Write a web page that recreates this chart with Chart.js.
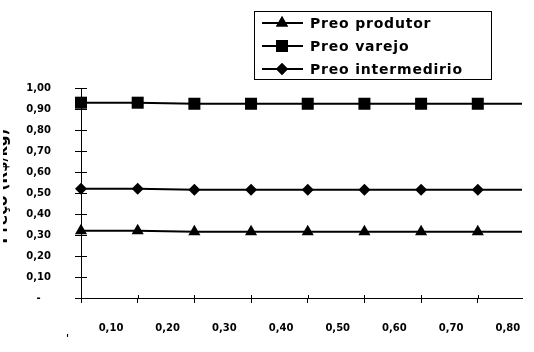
<!DOCTYPE html>
<html>
<head>
<meta charset="utf-8">
<script src="https://cdn.jsdelivr.net/npm/chart.js@4.4.1/dist/chart.umd.min.js"></script>
<style>
  body { margin: 0; background: #fff; }
  #wrap { width: 534px; height: 352px; position: relative; }
</style>
</head>
<body>
<div id="wrap"><canvas id="chart"></canvas></div>
<script>
// data
const categories = ["0,10", "0,20", "0,30", "0,40", "0,50", "0,60", "0,70", "0,80"];
const produtor = [0.32, 0.32, 0.315, 0.315, 0.315, 0.315, 0.315, 0.315];
const varejo = [0.93, 0.93, 0.925, 0.925, 0.925, 0.925, 0.925, 0.925];
const intermediario = [0.52, 0.52, 0.515, 0.515, 0.515, 0.515, 0.515, 0.515];
const seriesNames = ["Preo produtor", "Preo varejo", "Preo intermedirio"];
const yTitle = "Preço (R$/kg)";

const toPoints = (arr) => arr.map((v, i) => ({ x: i, y: v }));

Chart.defaults.font.family = "DejaVu Sans";
Chart.defaults.font.weight = "bold";
Chart.defaults.font.size = 10;
Chart.defaults.color = "#000";

// inner half of the cross tick marks + line running on to the right edge
const extras = {
  id: "extras",
  afterDatasetsDraw(chart) {
    const ctx = chart.ctx;
    const area = chart.chartArea;
    ctx.save();
    ctx.strokeStyle = "#000";
    ctx.lineWidth = 2;
    chart.data.datasets.forEach((ds, i) => {
      const pts = chart.getDatasetMeta(i).data;
      const last = pts[pts.length - 1];
      ctx.beginPath();
      ctx.moveTo(last.x, last.y);
      ctx.lineTo(area.right, last.y);
      ctx.stroke();
    });
    ctx.lineWidth = 1;
    const ys = chart.scales.y;
    ys.ticks.forEach((t) => {
      const py = Math.round(ys.getPixelForValue(t.value)) + 0.5;
      ctx.beginPath();
      ctx.moveTo(area.left, py);
      ctx.lineTo(area.left + 6, py);
      ctx.stroke();
    });
    const xs = chart.scales.x;
    xs.ticks.forEach((t) => {
      const px = Math.round(xs.getPixelForValue(t.value)) + 0.5;
      ctx.beginPath();
      ctx.moveTo(px, area.bottom);
      ctx.lineTo(px, area.bottom - 3);
      ctx.stroke();
    });
    ctx.restore();
  },
  afterDraw(chart) {
    const ctx = chart.ctx;
    // y axis title, cut off at the left edge like the original
    ctx.save();
    ctx.beginPath();
    ctx.rect(3, 0, 20, 352);
    ctx.clip();
    ctx.fillStyle = "#000";
    ctx.font = "bold 15px 'DejaVu Sans'";
    ctx.translate(7, 186);
    ctx.rotate(-Math.PI / 2);
    ctx.textAlign = "center";
    ctx.textBaseline = "alphabetic";
    ctx.fillText(yTitle, 0, 0);
    ctx.restore();

    ctx.save();
    ctx.font = "bold 10px 'DejaVu Sans'";
    ctx.fillText("'", 66, 342);
    ctx.restore();

    // legend box
    ctx.save();
    ctx.strokeStyle = "#000";
    ctx.lineWidth = 1;
    ctx.strokeRect(254.5, 11.5, 237, 68);
    ctx.font = "bold 14px 'DejaVu Sans'";
    ctx.letterSpacing = "0.8px";
    ctx.textBaseline = "middle";
    ctx.fillStyle = "#000";
    chart.data.datasets.forEach((ds, i) => {
      const y = 23 + i * 23;
      ctx.lineWidth = 2;
      ctx.beginPath();
      ctx.moveTo(262, y);
      ctx.lineTo(303, y);
      ctx.stroke();
      Chart.helpers.drawPoint(ctx, {
        pointStyle: ds.pointStyle,
        radius: ds.pointRadius,
        borderWidth: 0,
        rotation: 0
      }, 282, y);
      ctx.fill();
      ctx.fillText(ds.label, 310, y + 1);
    });
    ctx.restore();
  }
};

const common = {
  borderColor: "#000",
  backgroundColor: "#000",
  pointBackgroundColor: "#000",
  pointBorderColor: "#000",
  pointBorderWidth: 0,
  borderWidth: 2,
  tension: 0,
  clip: false
};

new Chart(document.getElementById("chart"), {
  type: "line",
  data: {
    datasets: [
      { ...common, label: seriesNames[0], data: toPoints(produtor), pointStyle: "triangle", pointRadius: 7 },
      { ...common, label: seriesNames[1], data: toPoints(varejo), pointStyle: "rect", pointRadius: 8.5 },
      { ...common, label: seriesNames[2], data: toPoints(intermediario), pointStyle: "rectRot", pointRadius: 6 }
    ]
  },
  options: {
    responsive: true,
    maintainAspectRatio: false,
    animation: false,
    layout: { padding: { left: 0, top: 88, right: 12, bottom: 0 } },
    plugins: {
      legend: { display: false },
      tooltip: { enabled: false }
    },
    scales: {
      x: {
        type: "linear",
        min: 0,
        max: 7.78,
        afterBuildTicks: (scale) => {
          scale.ticks = categories.map((c, i) => ({ value: i }));
        },
        afterFit: (scale) => {
          scale.height = 54;
        },
        ticks: {
          autoSkip: false,
          maxRotation: 0,
          labelOffset: 30,
          padding: 19,
          callback: (v) => categories[v]
        },
        grid: { drawOnChartArea: false, tickLength: 5, color: "#000" },
        border: { color: "#000", width: 1 }
      },
      y: {
        min: 0,
        max: 1,
        afterFit: (scale) => {
          scale.width = 81;
        },
        ticks: {
          stepSize: 0.1,
          padding: 24,
          callback: (v) => (v === 0 ? "-   " : v.toFixed(2).replace(".", ","))
        },
        grid: { drawOnChartArea: false, tickLength: 6, color: "#000" },
        border: { color: "#000", width: 1 }
      }
    }
  },
  plugins: [extras]
});
</script>
</body>
</html>
